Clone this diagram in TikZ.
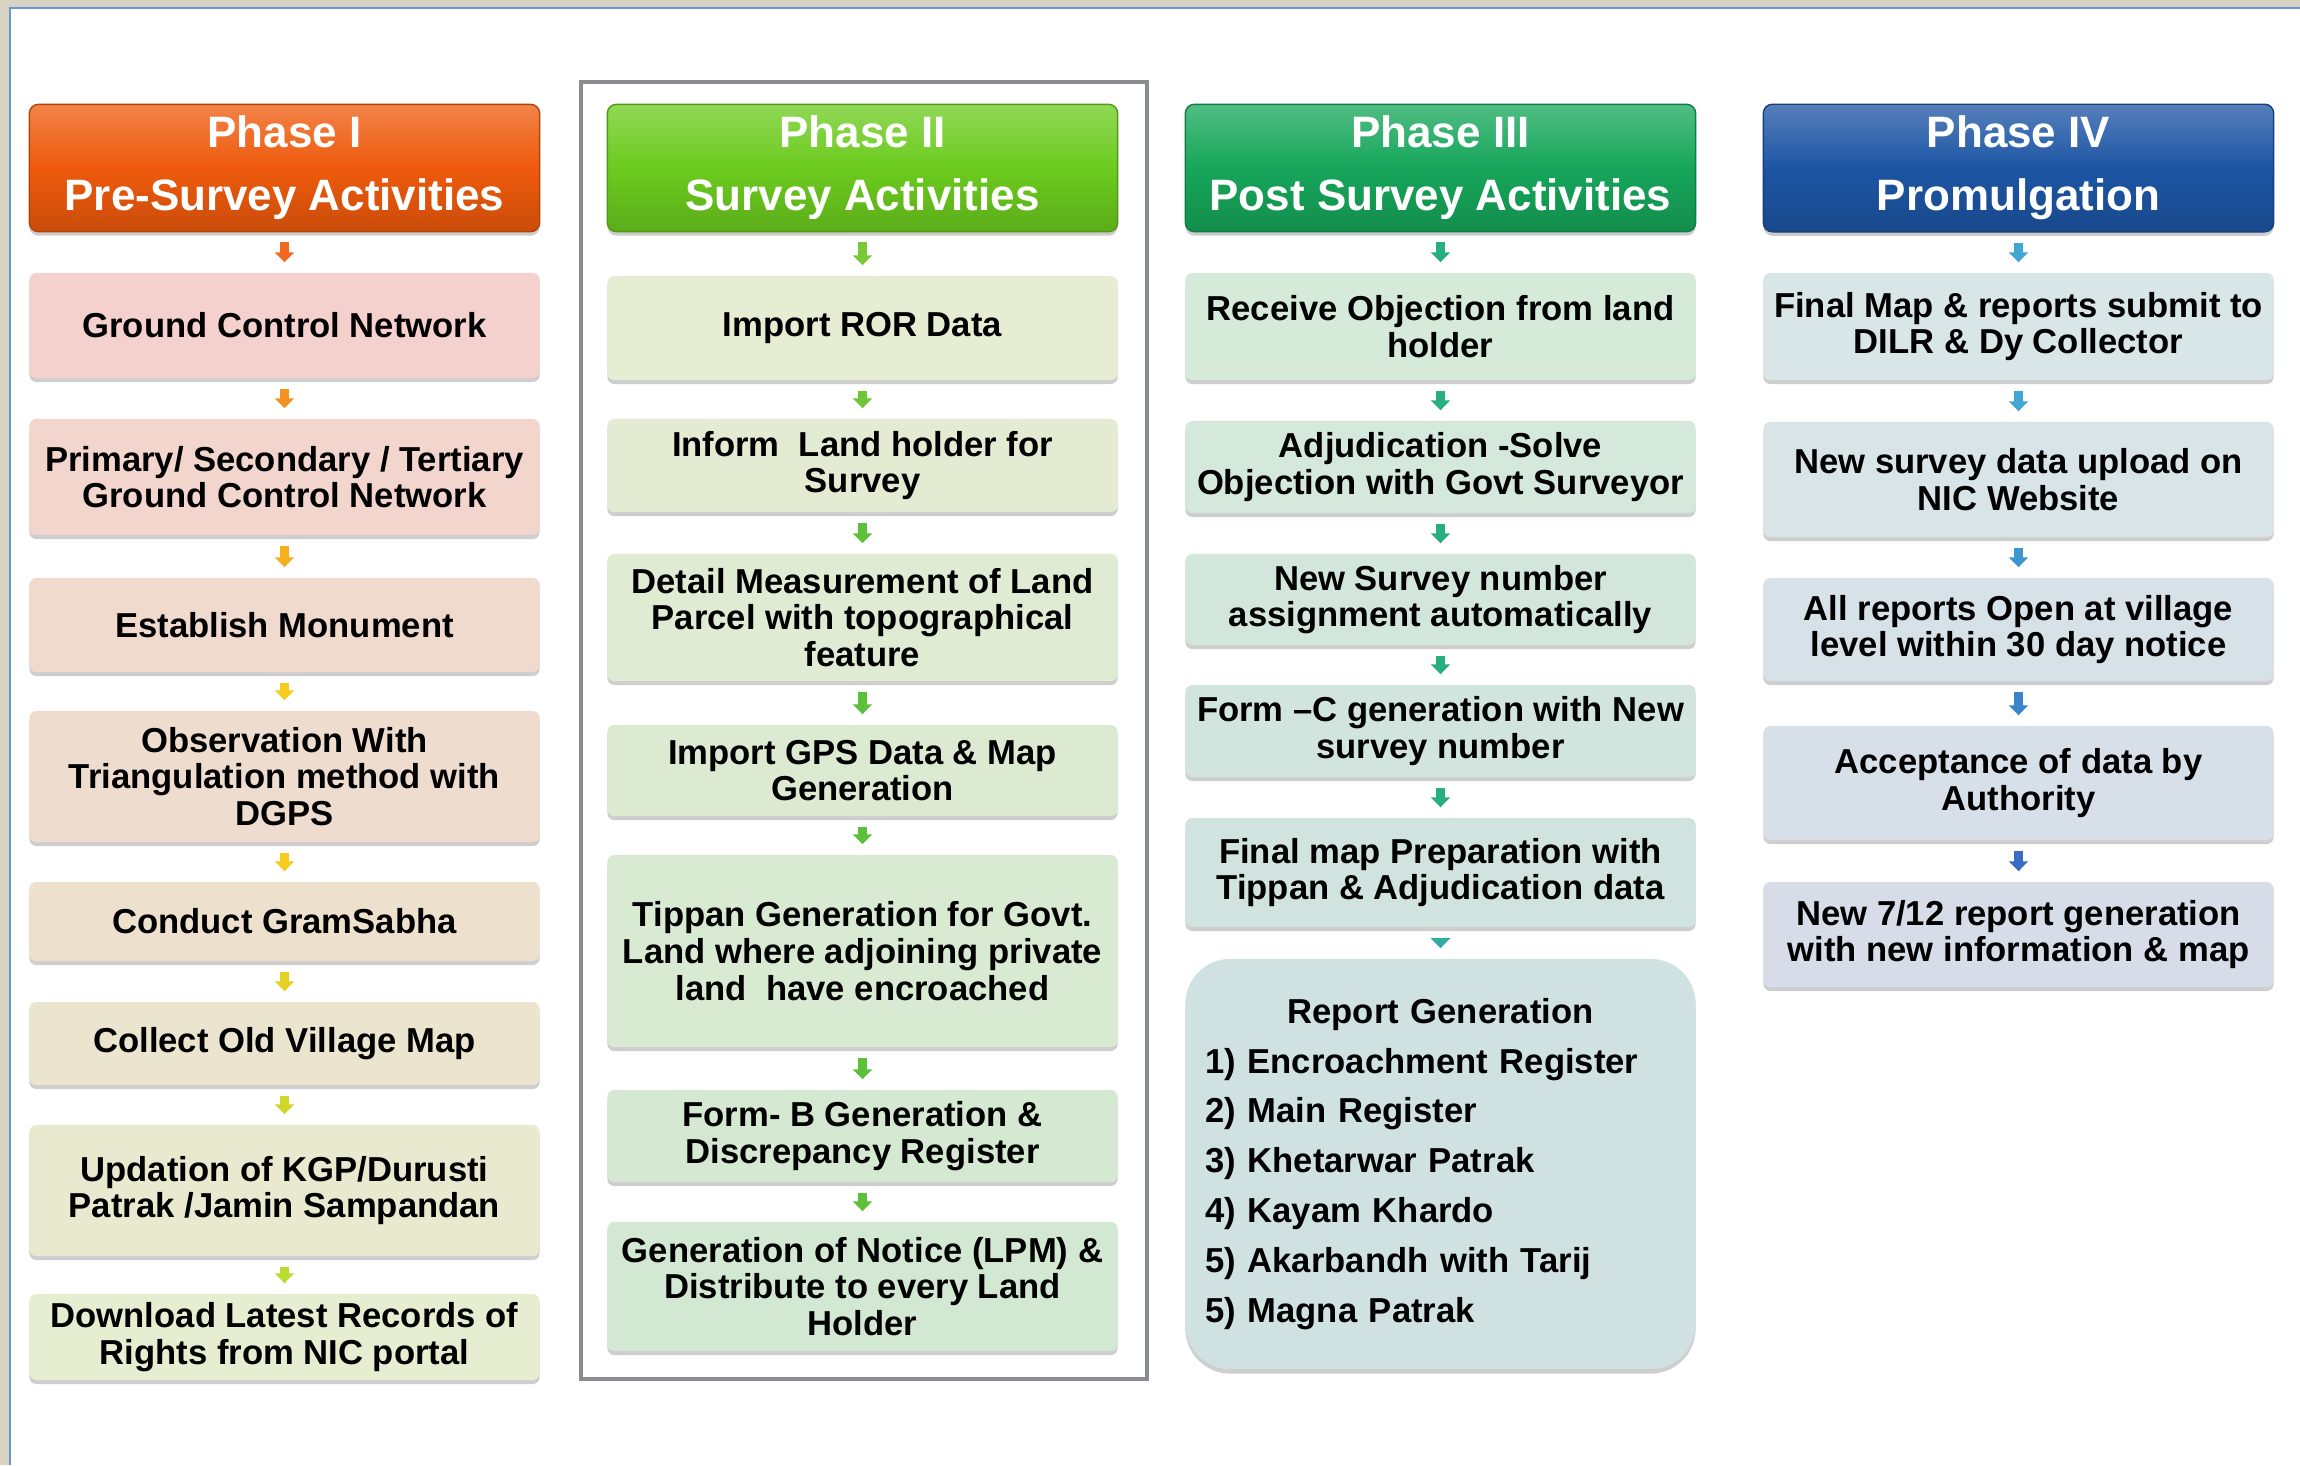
\documentclass[tikz,border=0pt]{standalone}
\usepackage{fontspec}
\setmainfont{Liberation Sans}
\usepackage{tikz}
\usetikzlibrary{arrows.meta}
\usetikzlibrary{shadows}

\definecolor{pageBeige}{HTML}{D8D2C0}
\definecolor{pageBlue}{HTML}{6A96D8}
\definecolor{frameGrey}{HTML}{8A8C90}
\definecolor{hdrOrange}{HTML}{EE5A0C}
\definecolor{hdrLime}{HTML}{6CCB1E}
\definecolor{hdrGreen}{HTML}{16A65A}
\definecolor{hdrBlue}{HTML}{1D55A4}
\definecolor{preFirst}{HTML}{F4D1CC}
\definecolor{preLast}{HTML}{E7EDD0}
\definecolor{srvFirst}{HTML}{E6EDD2}
\definecolor{srvLast}{HTML}{D2E8D2}
\definecolor{postFirst}{HTML}{D5EAD9}
\definecolor{postLast}{HTML}{CFE1E1}
\definecolor{promFirst}{HTML}{D8E6E8}
\definecolor{promLast}{HTML}{D7DDE8}
\definecolor{arrOr}{HTML}{F26A21}
\definecolor{arrYe}{HTML}{F8CC1E}
\definecolor{arrLi}{HTML}{B8DC30}
\definecolor{arrGreen}{HTML}{5CC03A}
\definecolor{arrTeal}{HTML}{27B07E}
\definecolor{arrSky}{HTML}{41A6D2}
\definecolor{arrBlue}{HTML}{3A6CC4}

\tikzset{phase/.style={rounded corners=0.09cm, minimum width=5.1cm, minimum height=1.27cm,
    align=center, text=white, font=\fontsize{12.5}{17.9}\selectfont\bfseries,
    draw=#1!75!black, top color=#1!75!white, bottom color=#1!85!black, middle color=#1,
    drop shadow={shadow xshift=0cm, shadow yshift=-0.04cm, opacity=0.4}}}
\tikzset{box/.style={rounded corners=0.07cm, minimum width=5.1cm, inner sep=0pt,
    align=center, font=\fontsize{9.85}{10.45}\selectfont\bfseries, fill=#1,
    drop shadow={shadow xshift=0cm, shadow yshift=-0.04cm, opacity=0.38}}}
\tikzset{reportbox/.style={rounded corners=0.45cm, minimum width=5.1cm, inner sep=0pt,
    text width=4.7cm, font=\fontsize{9.85}{14.2}\selectfont\bfseries, fill=#1,
    drop shadow={shadow xshift=0cm, shadow yshift=-0.045cm, opacity=0.38}}}
\tikzset{flowarrow/.style={draw=#1, line width=0.095cm,
    -{Triangle[width=0.19cm, length=0.1cm]}, shorten <=0.1cm, shorten >=0.1cm}}

\begin{document}
\begin{tikzpicture}[x=0.01cm, y=-0.01cm]
    \useasboundingbox (0,0) rectangle (2300,1465);

    % page and frame
    \fill[pageBeige] (0,0) rectangle (2300,1465);
    \fill[white] (10,8) rectangle (2300,1465);
    \draw[pageBlue, line width=0.015cm] (10,1465) -- (10,8) -- (2300,8);
    \draw[frameGrey, line width=0.04cm] (581,82) rectangle (1147,1379);

    % phase headers
    \node[phase=hdrOrange] (pre0) at (284.5,168) {Phase I\\Pre-Survey Activities};
    \node[phase=hdrLime] (srv0) at (862.5,168) {Phase II\\Survey Activities};
    \node[phase=hdrGreen] (post0) at (1440.5,168) {Phase III\\Post Survey Activities};
    \node[phase=hdrBlue] (prom0) at (2018.5,168) {Phase IV\\Promulgation};

    % phase I
    \node[box=preFirst, minimum height=1.05cm] (pre1) at (284.5,325.5) {Ground Control Network};
    \node[box=preFirst!86!preLast, minimum height=1.16cm] (pre2) at (284.5,477) {Primary/ Secondary / Tertiary\\Ground Control Network};
    \node[box=preFirst!71!preLast, minimum height=0.94cm] (pre3) at (284.5,625) {Establish Monument};
    \node[box=preFirst!57!preLast, minimum height=1.31cm] (pre4) at (284.5,776.5) {Observation With\\Triangulation method with\\DGPS};
    \node[box=preFirst!43!preLast, minimum height=0.79cm] (pre5) at (284.5,921.5) {Conduct GramSabha};
    \node[box=preFirst!29!preLast, minimum height=0.83cm] (pre6) at (284.5,1043.5) {Collect Old Village Map};
    \node[box=preFirst!14!preLast, minimum height=1.31cm] (pre7) at (284.5,1190.5) {Updation of KGP/Durusti\\Patrak /Jamin Sampandan};
    \node[box=preLast, minimum height=0.86cm] (pre8) at (284.5,1337) {Download Latest Records of\\Rights from NIC portal};

    % phase II
    \node[box=srvFirst, minimum height=1.04cm] (srv1) at (862.5,328) {Import ROR Data};
    \node[box=srvFirst!83!srvLast, minimum height=0.93cm] (srv2) at (862.5,465.5) {Inform\ \ Land holder for\\Survey};
    \node[box=srvFirst!67!srvLast, minimum height=1.27cm] (srv3) at (862.5,617.5) {Detail Measurement of Land\\Parcel with topographical\\feature};
    \node[box=srvFirst!50!srvLast, minimum height=0.91cm] (srv4) at (862.5,770.5) {Import GPS Data \& Map\\Generation};
    \node[box=srvFirst!33!srvLast, minimum height=1.92cm] (srv5) at (862.5,951) {Tippan Generation for Govt.\\Land where adjoining private\\land\ \ have encroached};
    \node[box=srvFirst!17!srvLast, minimum height=0.92cm] (srv6) at (862.5,1136) {Form- B Generation \&\\Discrepancy Register};
    \node[box=srvLast, minimum height=1.29cm] (srv7) at (862.5,1286.5) {Generation of Notice (LPM) \&\\Distribute to every Land\\Holder};

    % phase III
    \node[box=postFirst, minimum height=1.07cm] (post1) at (1440.5,326.5) {Receive Objection from land\\holder};
    \node[box=postFirst!80!postLast, minimum height=0.92cm] (post2) at (1440.5,467) {Adjudication -Solve\\Objection with Govt Surveyor};
    \node[box=postFirst!60!postLast, minimum height=0.91cm] (post3) at (1440.5,599.5) {New Survey number\\assignment automatically};
    \node[box=postFirst!40!postLast, minimum height=0.92cm] (post4) at (1440.5,731) {Form –C generation with New\\survey number};
    \node[box=postFirst!20!postLast, minimum height=1.09cm] (post5) at (1440.5,872.5) {Final map Preparation with\\Tippan \& Adjudication data};
    \node[reportbox=postLast, minimum height=4.1cm] (post6) at (1440.5,1164) {\centering Report Generation\par
        \raggedright 1) Encroachment Register\\2) Main Register\\3) Khetarwar Patrak\\4) Kayam Khardo\\5) Akarbandh with Tarij\\5) Magna Patrak\par};

    % phase IV
    \node[box=promFirst, minimum height=1.07cm] (prom1) at (2018.5,326.5) {Final Map \& reports submit to\\DILR \& Dy Collector};
    \node[box=promFirst!75!promLast, minimum height=1.15cm] (prom2) at (2018.5,479.5) {New survey data upload on\\NIC Website};
    \node[box=promFirst!50!promLast, minimum height=1.03cm] (prom3) at (2018.5,629.5) {All reports Open at village\\level within 30 day notice};
    \node[box=promFirst!25!promLast, minimum height=1.14cm] (prom4) at (2018.5,783) {Acceptance of data by\\Authority};
    \node[box=promLast, minimum height=1.05cm] (prom5) at (2018.5,934.5) {New 7/12 report generation\\with new information \& map};

    % arrows
    \draw[flowarrow=arrOr] (pre0) -- (pre1);
    \draw[flowarrow=arrYe!40!arrOr] (pre1) -- (pre2);
    \draw[flowarrow=arrYe!70!arrOr] (pre2) -- (pre3);
    \draw[flowarrow=arrYe] (pre3) -- (pre4);
    \draw[flowarrow=arrYe] (pre4) -- (pre5);
    \draw[flowarrow=arrLi!30!arrYe] (pre5) -- (pre6);
    \draw[flowarrow=arrLi!60!arrYe] (pre6) -- (pre7);
    \draw[flowarrow=arrLi] (pre7) -- (pre8);

    \draw[flowarrow=arrGreen!70!arrLi] (srv0) -- (srv1);
    \draw[flowarrow=arrGreen!80!arrLi] (srv1) -- (srv2);
    \draw[flowarrow=arrGreen] (srv2) -- (srv3);
    \draw[flowarrow=arrGreen] (srv3) -- (srv4);
    \draw[flowarrow=arrGreen] (srv4) -- (srv5);
    \draw[flowarrow=arrGreen] (srv5) -- (srv6);
    \draw[flowarrow=arrGreen] (srv6) -- (srv7);

    \draw[flowarrow=arrTeal] (post0) -- (post1);
    \draw[flowarrow=arrTeal] (post1) -- (post2);
    \draw[flowarrow=arrTeal] (post2) -- (post3);
    \draw[flowarrow=arrTeal] (post3) -- (post4);
    \draw[flowarrow=arrTeal] (post4) -- (post5);
    \draw[flowarrow=arrTeal!60!arrSky] (post5) -- (post6);

    \draw[flowarrow=arrSky] (prom0) -- (prom1);
    \draw[flowarrow=arrSky] (prom1) -- (prom2);
    \draw[flowarrow=arrSky!70!arrBlue] (prom2) -- (prom3);
    \draw[flowarrow=arrSky!40!arrBlue] (prom3) -- (prom4);
    \draw[flowarrow=arrBlue] (prom4) -- (prom5);

\end{tikzpicture}
\end{document}
